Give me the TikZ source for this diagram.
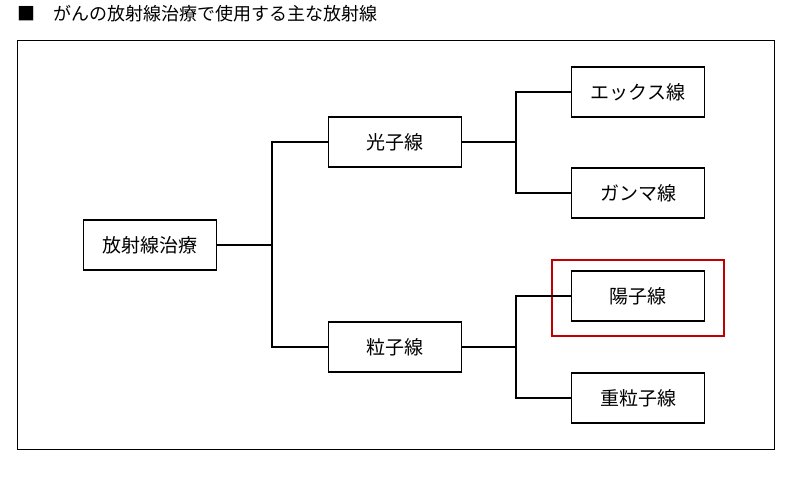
\documentclass[tikz,border=0pt]{standalone}
\usepackage{fontspec}
\setmainfont{Noto Sans CJK JP}
\tikzset{
  kind/.style={draw, line width=1.8pt, minimum width=133pt, minimum height=50pt, inner sep=0pt, font=\fontsize{19}{21}\selectfont},
  link/.style={line width=1.8pt}
}
\begin{document}
\begin{tikzpicture}[x=1pt,y=-1pt]
\useasboundingbox (0,0) rectangle (790,480);
% title and frame
\node[anchor=west, font=\fontsize{18}{20}\selectfont] (title) at (14,14) {■\quad がんの放射線治療で使用する主な放射線};
\draw (17,40) rectangle (774,449);
% boxes
\node[kind] (root) at (150,245) {放射線治療};
\node[kind] (photon) at (395,142) {光子線};
\node[kind] (particle) at (395,347) {粒子線};
\node[kind] (xray) at (638,92) {エックス線};
\node[kind] (gamma) at (638,193) {ガンマ線};
\node[kind] (proton) at (638,296) {陽子線};
\node[kind] (heavy) at (638,398) {重粒子線};
\draw[red!75!black, line width=2.5pt] (552,260) rectangle (724,336);
% connectors
\draw[link] (root.east) -- (272,245);
\draw[link] (photon.west) -| (272,245) |- (particle.west);
\draw[link] (photon.east) -- (516,142);
\draw[link] (xray.west) -| (516,142) |- (gamma.west);
\draw[link] (particle.east) -- (516,347);
\draw[link] (proton.west) -| (516,347) |- (heavy.west);
\end{tikzpicture}
\end{document}
